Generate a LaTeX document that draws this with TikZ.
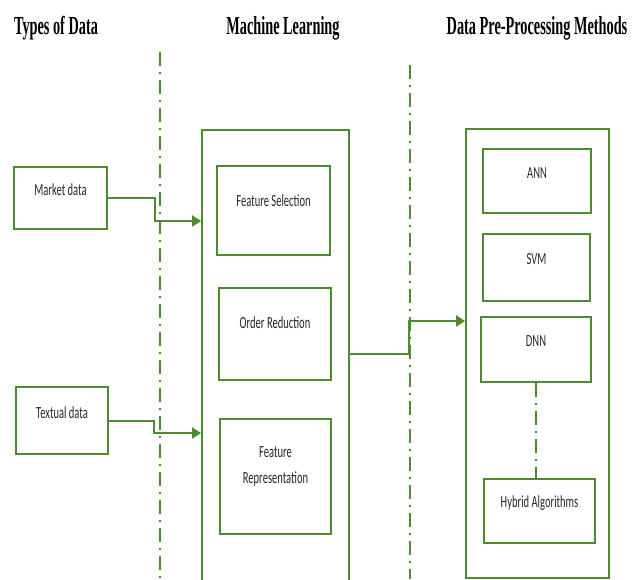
\documentclass[tikz,border=0pt]{standalone}
\usepackage{fontspec}
\usepackage{tikz}
\usetikzlibrary{positioning, arrows.meta}
\setmainfont{Carlito}
\newfontfamily\headfont[FakeStretch=0.55]{Liberation Serif}
\newfontfamily\boxfont[FakeStretch=0.62]{Carlito}
\definecolor{leaf}{HTML}{4C8C2C}

\begin{document}
\begin{tikzpicture}[x=1pt, y=-1pt,
    box/.style={draw=leaf, line width=1.8pt, inner sep=0pt},
    txt/.style={font=\boxfont\fontsize{17}{20}\selectfont, text=black!85, align=center, yshift=8pt},
    head/.style={font=\headfont\bfseries\fontsize{26}{29}\selectfont},
    flow/.style={draw=leaf, line width=2pt, -{Triangle[length=9pt, width=11pt]}},
    divider/.style={draw=leaf, line width=1.5pt, dash pattern=on 14pt off 6pt on 2pt off 6pt},
]
\useasboundingbox (0,0) rectangle (632,579);
\clip (0,0) rectangle (632,579);

% column titles
\node[head] (t1) at (56,28) {Types of Data};
\node[head] (t2) at (283,28) {Machine Learning};
\node[head] (t3) at (537,28) {Data Pre-Processing Methods};

% dividers between the columns
\coordinate (d1a) at (160,52);
\coordinate (d1b) at (160,579);
\coordinate (d2a) at (410,65);
\coordinate (d2b) at (410,579);
\draw[divider] (d1a) -- (d1b);
\draw[divider] (d2a) -- (d2b);

% input data
\node[box, minimum width=93, minimum height=62, label={[txt]center:Market data}] (market) at (60.5,198) {};
\node[box, minimum width=92, minimum height=67, label={[txt]center:Textual data}] (textual) at (62,420.5) {};

% machine learning block
\node[box, minimum width=147, minimum height=480] (ml) at (275.5,370) {};
\node[box, minimum width=113, minimum height=89, label={[txt, yshift=2pt]center:Feature Selection}] (fs) at (273.5,210.5) {};
\node[box, minimum width=112, minimum height=92, label={[txt, yshift=3pt]center:Order Reduction}] (ord) at (275,334) {};
\node[box, minimum width=111, minimum height=115, label={[txt, yshift=2pt]center:Feature\\[6pt]Representation}] (frep) at (275.5,476.5) {};

% pre-processing methods block
\node[box, minimum width=143, minimum height=449] (dpm) at (537.5,353.5) {};
\node[box, minimum width=108, minimum height=64, label={[txt]center:ANN}] (ann) at (537,181) {};
\node[box, minimum width=107, minimum height=67, label={[txt]center:SVM}] (svm) at (536.5,267.5) {};
\node[box, minimum width=110, minimum height=65, label={[txt]center:DNN}] (dnn) at (536,349.5) {};
\node[box, minimum width=111, minimum height=64, label={[txt]center:Hybrid Algorithms}] (hyb) at (539.5,511) {};

% connectors
\coordinate (m1) at (155,221);
\coordinate (m2) at (154,433);
\draw[flow] (market.east) -| (m1) -- (m1 -| ml.west);
\draw[flow] (textual.east) -| (m2) -- (m2 -| ml.west);

\coordinate (o1) at (409,354);
\coordinate (o2) at (409,321);
\draw[flow] (o1 -| ml.east) -- (o1) -- (o2) -- (o2 -| dpm.west);

\draw[divider, line width=1.3pt] (dnn.south) -- (dnn.south |- hyb.north);
\end{tikzpicture}
\end{document}
